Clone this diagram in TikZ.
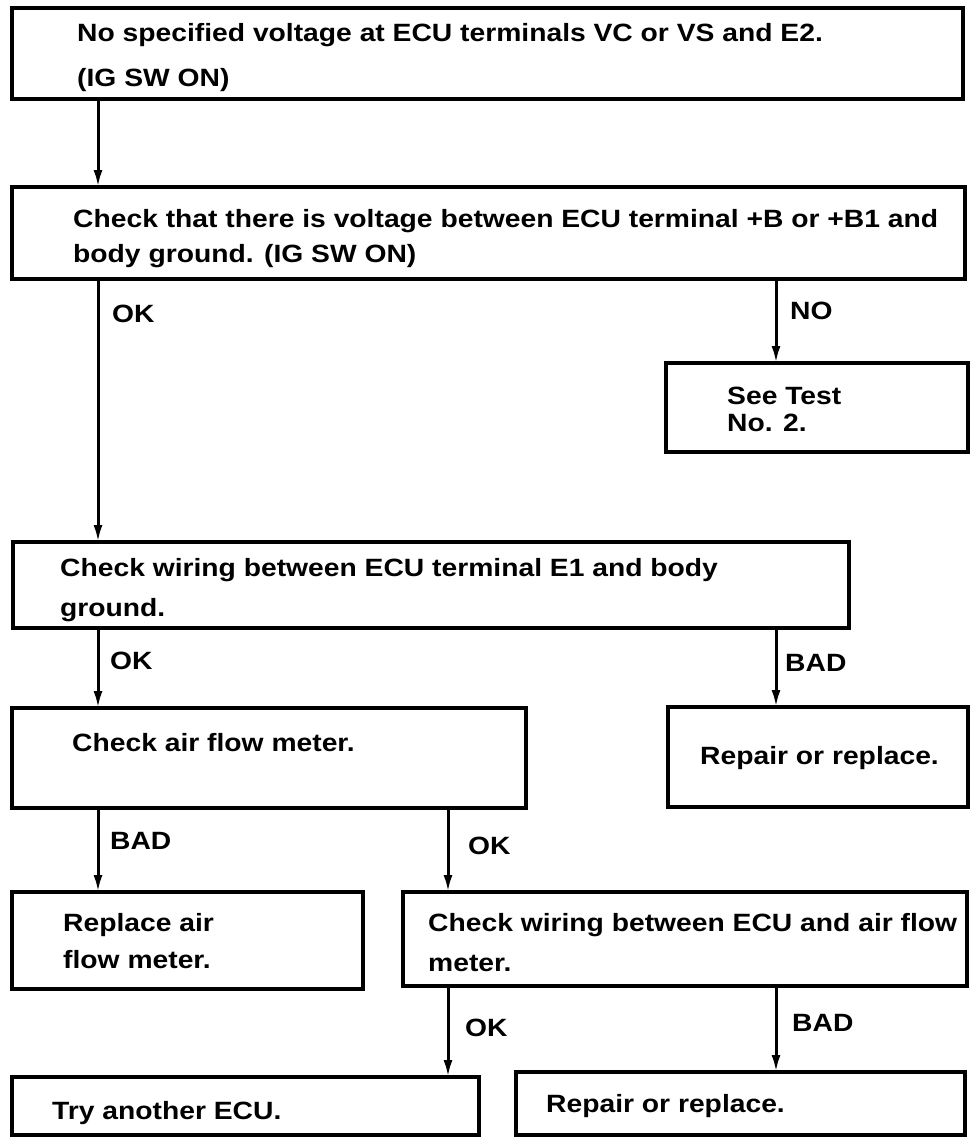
\documentclass[tikz,border=0pt]{standalone}
\usepackage{fontspec}
\setmainfont{Liberation Sans}[FakeStretch=1.13]
\usetikzlibrary{arrows.meta}
\tikzset{
  box/.style={draw, line width=3.4pt, rectangle, inner sep=0pt, outer sep=0pt, anchor=north west},
  txt/.style={anchor=base west, inner sep=0pt, font=\bfseries\fontsize{25}{30}\selectfont},
  lbl/.style={anchor=base west, inner sep=0pt, font=\bfseries\fontsize{25}{30}\selectfont},
  arr/.style={line width=3pt, -{Latex[length=17pt,width=9pt]}}
}
\begin{document}
\begin{tikzpicture}[x=1pt,y=-1pt]
\useasboundingbox[fill=white] (0,0) rectangle (972,1137);
% column guides
\coordinate (cL) at (98,0);
\coordinate (cM) at (448,0);
\coordinate (cR) at (776,0);
% boxes
\node[box, minimum width=951pt, minimum height=91pt] (b1) at (12,8) {};
\node[box, minimum width=953pt, minimum height=92pt] (b2) at (12,187) {};
\node[box, minimum width=302pt, minimum height=89pt] (b3) at (666,363) {};
\node[box, minimum width=836pt, minimum height=86pt] (b4) at (13,542) {};
\node[box, minimum width=514pt, minimum height=100pt] (b5) at (12,708) {};
\node[box, minimum width=300pt, minimum height=100pt] (r1) at (668,707) {};
\node[box, minimum width=351pt, minimum height=97pt] (b6) at (12,892) {};
\node[box, minimum width=564pt, minimum height=94pt] (b7) at (403,892) {};
\node[box, minimum width=467pt, minimum height=58pt] (b8) at (12,1077) {};
\node[box, minimum width=449pt, minimum height=63pt] (r2) at (516,1072) {};
% texts
\node[txt] (t1a) at (77,42) {No specified voltage at ECU terminals VC or VS and E2.};
\node[txt] (t1b) at (77,87) {(IG SW ON)};
\node[txt] (t2a) at (73,227) {Check that there is voltage between ECU terminal +B or +B1 and};
\node[txt] (t2b) at (73,262) {body ground. (IG SW ON)};
\node[txt] (t3a) at (727,404) {See Test};
\node[txt] (t3b) at (727,431) {No. 2.};
\node[txt] (t4a) at (60,576) {Check wiring between ECU terminal E1 and body};
\node[txt] (t4b) at (60,616) {ground.};
\node[txt] (t5) at (72,751) {Check air flow meter.};
\node[txt] (tr1) at (700,764) {Repair or replace.};
\node[txt] (t6a) at (63,931) {Replace air};
\node[txt] (t6b) at (63,968) {flow meter.};
\node[txt] (t7a) at (428,931) {Check wiring between ECU and air flow};
\node[txt] (t7b) at (428,971) {meter.};
\node[txt] (t8) at (52,1119) {Try another ECU.};
\node[txt] (tr2) at (546,1112) {Repair or replace.};
% connectors
\draw[arr] (b1.south -| cL) -- (b2.north -| cL);
\draw[arr] (b2.south -| cL) -- (b4.north -| cL);
\draw[arr] (b2.south -| cR) -- (b3.north -| cR);
\draw[arr] (b4.south -| cL) -- (b5.north -| cL);
\draw[arr] (b4.south -| cR) -- (r1.north -| cR);
\draw[arr] (b5.south -| cL) -- (b6.north -| cL);
\draw[arr] (b5.south -| cM) -- (b7.north -| cM);
\draw[arr] (b7.south -| cM) -- (b8.north -| cM);
\draw[arr] (b7.south -| cR) -- (r2.north -| cR);
% labels
\node[lbl] (l1) at (112,322) {OK};
\node[lbl] (l2) at (790,319) {NO};
\node[lbl] (l3) at (110,669) {OK};
\node[lbl] (l4) at (785,671) {BAD};
\node[lbl] (l5) at (110,849) {BAD};
\node[lbl] (l6) at (468,854) {OK};
\node[lbl] (l7) at (465,1036) {OK};
\node[lbl] (l8) at (792,1031) {BAD};
\end{tikzpicture}
\end{document}
